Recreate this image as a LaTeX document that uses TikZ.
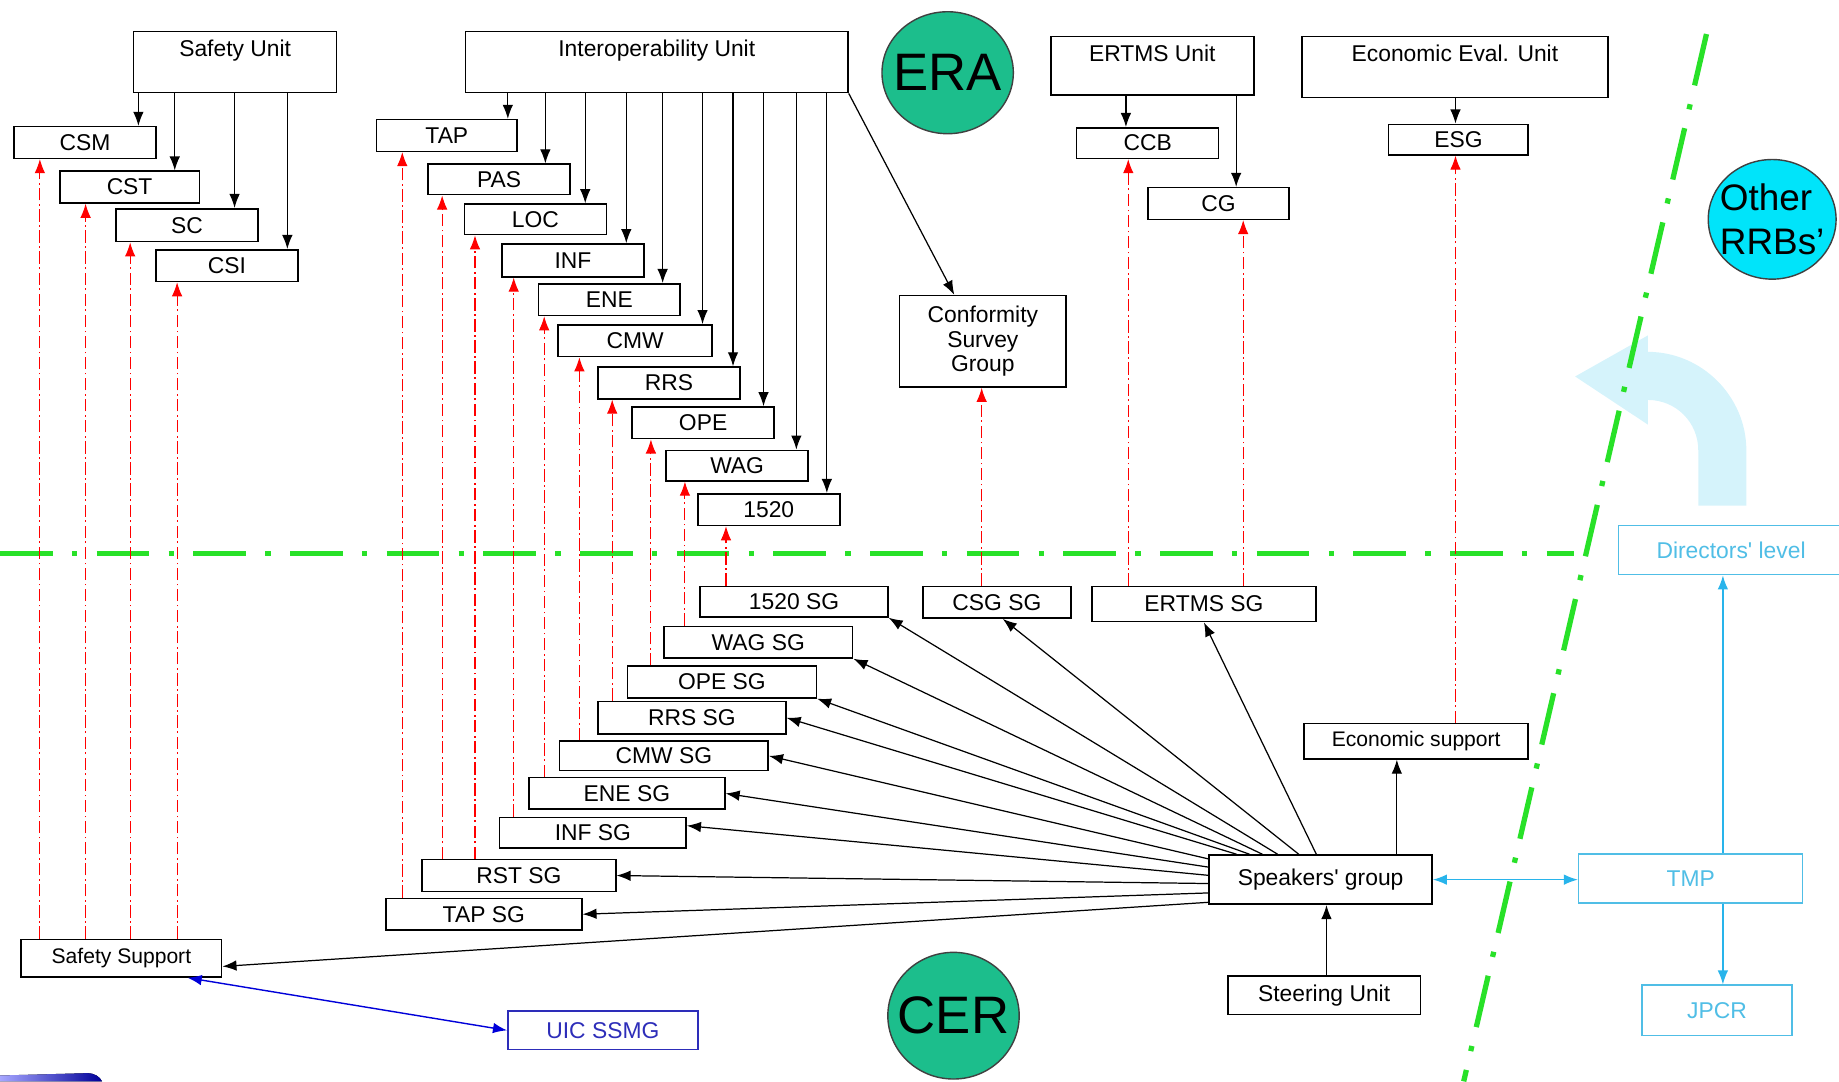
\documentclass[tikz,border=0pt]{standalone}
\usepackage{fontspec}
\setmainfont{Liberation Sans}
\usetikzlibrary{positioning,calc,arrows.meta,shapes.geometric}
\definecolor{eragreen}{RGB}{28,190,140}
\definecolor{rrbcyan}{RGB}{0,228,250}
\definecolor{linegreen}{RGB}{40,225,40}
\definecolor{lightsky}{RGB}{213,243,251}
\definecolor{rrbline}{RGB}{80,190,230}
\definecolor{rrbarrow}{RGB}{40,180,235}
\definecolor{uicblue}{RGB}{45,45,185}
\colorlet{uicarrow}{blue!85!black}
\newcommand\unitpx{0.02345cm}
\newcommand\boxfont{\fontsize{13}{14}\selectfont}
\newcommand\smallboxfont{\fontsize{12}{14}\selectfont}
\newcommand\bubblefont{\fontsize{30}{32}\selectfont}
\tikzset{>={Latex[length=8pt,width=6pt]}}
\tikzset{
  box/.style = {draw, fill=white, line width=0.9pt, inner sep=0pt, font=\boxfont,
    minimum width=121*\unitpx, minimum height=27*\unitpx},
  unitbox/.style = {box, minimum height=52*\unitpx,
    label={[anchor=north, inner sep=5pt, font=\boxfont]north:#1}},
  sgbox/.style = {box, minimum width=161*\unitpx},
  rrbbox/.style = {box, draw=rrbline, text=rrbline, line width=0.8pt, minimum height=42*\unitpx},
  blob/.style = {ellipse, draw=black!75, line width=0.8pt, inner sep=0pt},
  bubble/.style = {blob, label={[font=\bubblefont]center:#1}},
  flow/.style = {->, line width=0.7pt},
  req/.style = {->, red, line width=0.6pt, dash pattern=on 7pt off 2pt on 1pt off 2pt},
  boundary/.style = {draw=linegreen, line width=3.3pt, dash pattern=on 30pt off 11pt on 3pt off 11pt}
}

\begin{document}
\begin{tikzpicture}[x=\unitpx, y=-\unitpx]
  \useasboundingbox (0,0) rectangle (1568,922);
  \clip (0,0) rectangle (1568,922);
  % turn-back arrow behind the border
  \fill[lightsky] (1448,431) -- (1448,384) .. controls (1448,360) and (1429,341) .. (1405,341)
    -- (1405,362) -- (1343,321) -- (1405,286) -- (1405,300)
    .. controls (1451,300) and (1489,338) .. (1489,384) -- (1489,431) -- cycle;
  % borders
  \draw[boundary] (0,472) -- (1342,472);
  \draw[boundary, line width=3pt] (1455,29) -- (1248,922);
  % logo corner
  \fill[left color=blue!35, right color=blue!60!black] (0,922) -- (0,917) -- (74,915)
    .. controls (81,915) and (85,918) .. (87,922) -- cycle;

  % bubbles
  \node (ERA) at (808,62) [bubble=ERA, fill=eragreen, minimum width=112*\unitpx, minimum height=104*\unitpx] {};
  \node (RRB) at (1511,187) [blob, fill=rrbcyan, minimum width=109*\unitpx, minimum height=102*\unitpx,
    label={[font=\fontsize{21}{25}\selectfont, align=left]center:Other\\RRBs’}] {};
  \node (CER) at (813,866) [bubble=CER, fill=eragreen, minimum width=112*\unitpx, minimum height=108*\unitpx] {};

  % units
  \node (SU) at (200.5,53) [unitbox=Safety Unit, minimum width=173*\unitpx] {};
  \node (IU) at (560,53) [unitbox=Interoperability Unit, minimum width=326*\unitpx] {};
  \node (EU) at (982.5,56) [unitbox=ERTMS Unit, minimum width=173*\unitpx, minimum height=50*\unitpx] {};
  \node (EEU) at (1240.5,57) [unitbox=Economic Eval. Unit, minimum width=261*\unitpx] {};

  % working parties
  \node (CSM) at (72.5,121.5) [box] {CSM};
  \node (CST) at (110.5,159.5) [box, minimum width=119*\unitpx] {CST};
  \node (SC) at (159.5,192) [box, minimum height=28*\unitpx] {SC};
  \node (CSI) at (193.5,226.5) [box] {CSI};
  \node (TAP) at (381,115.5) [box, minimum width=120*\unitpx] {TAP};
  \node (PAS) at (425.5,153) [box, minimum height=26*\unitpx] {PAS};
  \node (LOC) at (456.5,187) [box, minimum height=26*\unitpx] {LOC};
  \node (INF) at (488.5,222) [box, minimum height=28*\unitpx] {INF};
  \node (ENE) at (519.5,255.5) [box] {ENE};
  \node (CMW) at (541.5,290.5) [box, minimum width=131*\unitpx] {CMW};
  \node (RRS) at (570.5,326.5) [box] {RRS};
  \node (OPE) at (599.5,360.5) [box] {OPE};
  \node (WAG) at (628.5,397) [box, minimum height=26*\unitpx] {WAG};
  \node (N1520) at (655.5,434.5) [box] {1520};
  \node (CSG) at (838,291) [box, minimum width=142*\unitpx, minimum height=78*\unitpx, align=center] {Conformity\\Survey\\Group};
  \node (CCB) at (978.5,122) [box, minimum height=26*\unitpx] {CCB};
  \node (CG) at (1039,173.5) [box, minimum width=120*\unitpx] {CG};
  \node (ESG) at (1243.5,119) [box, minimum width=119*\unitpx, minimum height=26*\unitpx] {ESG};

  % support groups
  \node (S1520) at (677,513) [sgbox, minimum width=160*\unitpx, minimum height=26*\unitpx] {1520 SG};
  \node (SCSG) at (850,513.5) [sgbox, minimum width=126*\unitpx] {CSG SG};
  \node (SERT) at (1026.5,515) [sgbox, minimum width=191*\unitpx, minimum height=30*\unitpx] {ERTMS SG};
  \node (SWAG) at (646.5,547.5) [sgbox] {WAG SG};
  \node (SOPE) at (615.5,581.5) [sgbox] {OPE SG};
  \node (SRRS) at (590,612) [sgbox, minimum width=160*\unitpx, minimum height=28*\unitpx] {RRS SG};
  \node (SCMW) at (566,644.5) [sgbox, minimum width=178*\unitpx, minimum height=25*\unitpx] {CMW SG};
  \node (SENE) at (534.5,676.5) [sgbox, minimum width=167*\unitpx] {ENE SG};
  \node (SINF) at (505.5,710) [sgbox, minimum width=159*\unitpx, minimum height=26*\unitpx] {INF SG};
  \node (SRST) at (442.5,746.5) [sgbox, minimum width=165*\unitpx] {RST SG};
  \node (STAP) at (412.5,779.5) [sgbox, minimum width=167*\unitpx] {TAP SG};
  \node (SS) at (103.5,817) [box, font=\smallboxfont, minimum width=171*\unitpx, minimum height=32*\unitpx] {Safety Support};
  \node (UIC) at (514,878.5) [box, draw=uicblue, text=uicblue, minimum width=162*\unitpx, minimum height=33*\unitpx] {UIC SSMG};
  \node (ES) at (1207.5,632) [box, font=\smallboxfont, minimum width=191*\unitpx, minimum height=30*\unitpx] {Economic support};
  \node (SG) at (1126,750) [box, minimum width=190*\unitpx, minimum height=42*\unitpx] {Speakers\textquotesingle\ group};
  \node (ST) at (1129,848.5) [box, minimum width=164*\unitpx, minimum height=33*\unitpx] {Steering Unit};

  % directors
  \node (DL) at (1476,469) [rrbbox, minimum width=192*\unitpx] {Directors\textquotesingle\ level};
  \node (TMP) at (1441.5,749) [rrbbox, minimum width=191*\unitpx] {TMP};
  \node (JPCR) at (1464,861.5) [rrbbox, minimum width=128*\unitpx, minimum height=43*\unitpx] {JPCR};

  % Safety Unit down
  \draw[flow] (118,0 |- SU.south) -- (118,0 |- CSM.north);
  \draw[flow] (149,0 |- SU.south) -- (149,0 |- CST.north);
  \draw[flow] (200,0 |- SU.south) -- (200,0 |- SC.north);
  \draw[flow] (245,0 |- SU.south) -- (245,0 |- CSI.north);
  % Interoperability Unit down
  \draw[flow] (433,0 |- IU.south) -- (433,0 |- TAP.north);
  \draw[flow] (465,0 |- IU.south) -- (465,0 |- PAS.north);
  \draw[flow] (499,0 |- IU.south) -- (499,0 |- LOC.north);
  \draw[flow] (534,0 |- IU.south) -- (534,0 |- INF.north);
  \draw[flow] (565,0 |- IU.south) -- (565,0 |- ENE.north);
  \draw[flow] (599,0 |- IU.south) -- (599,0 |- CMW.north);
  \draw[flow] (625,0 |- IU.south) -- (625,0 |- RRS.north);
  \draw[flow] (651,0 |- IU.south) -- (651,0 |- OPE.north);
  \draw[flow] (679,0 |- IU.south) -- (679,0 |- WAG.north);
  \draw[flow] (705,0 |- IU.south) -- (705,0 |- N1520.north);
  \draw[flow] (IU.south east) -- ($(CSG.north west)!0.33!(CSG.north east)$);
  % ERTMS and economic units down
  \draw[flow] (960,0 |- EU.south) -- (960,0 |- CCB.north);
  \draw[flow] (1054,0 |- EU.south) -- (1054,0 |- CG.north);
  \draw[flow] (1241,0 |- EEU.south) -- (1241,0 |- ESG.north);

  % support groups up to the working parties
  \draw[req] (34,0 |- SS.north) -- (34,0 |- CSM.south);
  \draw[req] (73,0 |- SS.north) -- (73,0 |- CST.south);
  \draw[req] (111,0 |- SS.north) -- (111,0 |- SC.south);
  \draw[req] (151,0 |- SS.north) -- (151,0 |- CSI.south);
  \draw[req] (343,0 |- STAP.north) -- (343,0 |- TAP.south);
  \draw[req] (377,0 |- SRST.north) -- (377,0 |- PAS.south);
  \draw[req] (405,0 |- SRST.north) -- (405,0 |- LOC.south);
  \draw[req] (438,0 |- SINF.north) -- (438,0 |- INF.south);
  \draw[req] (464,0 |- SENE.north) -- (464,0 |- ENE.south);
  \draw[req] (494,0 |- SCMW.north) -- (494,0 |- CMW.south);
  \draw[req] (522,0 |- SRRS.north) -- (522,0 |- RRS.south);
  \draw[req] (555,0 |- SOPE.north) -- (555,0 |- OPE.south);
  \draw[req] (584,0 |- SWAG.north) -- (584,0 |- WAG.south);
  \draw[req] (619,0 |- S1520.north) -- (619,0 |- N1520.south);
  \draw[req] (837,0 |- SCSG.north) -- (837,0 |- CSG.south);
  \draw[req] (962,0 |- SERT.north) -- (962,0 |- CCB.south);
  \draw[req] (1060,0 |- SERT.north) -- (1060,0 |- CG.south);
  \draw[req] (1241,0 |- ES.north) -- (1241,0 |- ESG.south);

  % speakers' group fan
  \draw[flow] ($(SG.north west)+(92,0)$) -- (SERT.south);
  \draw[flow] ($(SG.north west)+(77,0)$) -- ($(SCSG.south)+(5,0)$);
  \draw[flow] ($(SG.north west)+(59,0)$) -- (S1520.south east);
  \draw[flow] ($(SG.north west)+(46,0)$) -- (SWAG.south east);
  \draw[flow] ($(SG.north west)+(35,0)$) -- (SOPE.south east);
  \draw[flow] ($(SG.north west)+(24,0)$) -- (SRRS.east);
  \draw[flow] ($(SG.north west)+(0,4)$) -- (SCMW.east);
  \draw[flow] ($(SG.north west)+(0,11)$) -- (SENE.east);
  \draw[flow] ($(SG.north west)+(0,18)$) -- ($(SINF.east)+(0,-6)$);
  \draw[flow] ($(SG.north west)+(0,25)$) -- (SRST.east);
  \draw[flow] ($(SG.north west)+(0,33)$) -- (STAP.east);
  \draw[flow] ($(SG.north west)+(0,41)$) -- ($(SS.east)+(0,7)$);
  \draw[flow] (1191,0 |- SG.north) -- (1191,0 |- ES.south);
  \draw[flow] (1131,0 |- ST.north) -- (1131,0 |- SG.south);

  % links outside
  \draw[<->, rrbarrow, line width=0.8pt] (SG.east) -- (SG.east -| TMP.west);
  \draw[->, rrbarrow, line width=0.8pt] (1469,0 |- TMP.north) -- (1469,0 |- DL.south);
  \draw[->, rrbarrow, line width=0.8pt] (1469,0 |- TMP.south) -- (1469,0 |- JPCR.north);
  \draw[<->, uicarrow, line width=0.8pt] (160,0 |- SS.south) -- (UIC.west);
\end{tikzpicture}
\end{document}
